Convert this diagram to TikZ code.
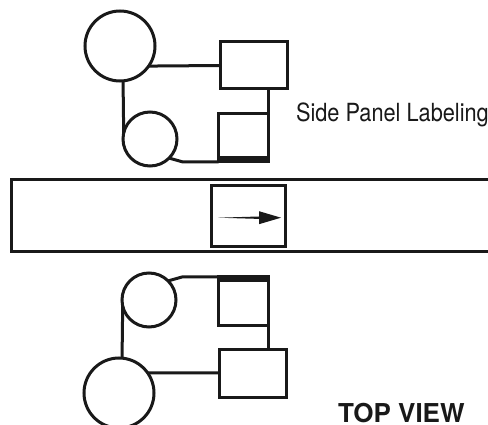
\documentclass[tikz,border=0pt]{standalone}
\usepackage{fontspec}
\setmainfont{TeX Gyre Heros}
\begin{document}
\begin{tikzpicture}[x=1pt,y=-1pt,
  ln/.style={line width=3pt,draw=black!90,line join=miter},
  circ/.style={ln,circle,inner sep=0pt,outer sep=0pt,minimum size=#1},
  boxn/.style 2 args={ln,rectangle,inner sep=0pt,outer sep=0pt,minimum width=#1,minimum height=#2},
  conn/.style={ln},
  bar/.style={fill=black!90,draw=none},
  lbl/.style={inner sep=0pt,outer sep=0pt,anchor=base west,text=black!90}]
\useasboundingbox (0,0) rectangle (488,425);
\fill[white] (0,0) rectangle (488,425);
% top group
\node[circ=70pt] (bigT) at (120,46) {};
\node[circ=54pt] (smallT) at (150,139) {};
\node[boxn={67pt}{47pt}] (wideT) at (253.5,65.5) {};
\node[boxn={50pt}{48pt}] (squareT) at (243.5,138) {};
\fill[bar] (squareT.south west) rectangle ([yshift=5.5pt]squareT.south east);
\coordinate (bendT) at (183,162);
\draw[conn] (bigT.-35) -- (wideT.west);
\draw[conn] (bigT.-85) -- (smallT.167);
\draw[conn] (wideT.south -| squareT.east) -- (squareT.north east);
\draw[conn] (smallT.-45) -- (bendT) -- (squareT.south west);
% band
\node[boxn={480pt}{72pt}] (band) at (251,216) {};
\node[boxn={74pt}{61pt}] (panel) at (248,216.5) {};
\coordinate (arrowtail) at (218,217.7);
\coordinate (arrowtip) at (281,217.7);
\fill[black!90] (arrowtail) -- ([shift={(41,-1.2)}]arrowtail) -- ([shift={(41,-6.5)}]arrowtail)
  -- (arrowtip) -- ([shift={(41,6.5)}]arrowtail) -- ([shift={(41,1.2)}]arrowtail) -- cycle;
% bottom group
\node[circ=54pt] (smallB) at (149,300) {};
\node[circ=70pt] (bigB) at (119,393) {};
\node[boxn={50pt}{48pt}] (squareB) at (243,301) {};
\node[boxn={67pt}{48pt}] (wideB) at (252.5,373) {};
\fill[bar] (squareB.north west) rectangle ([yshift=-5.5pt]squareB.north east);
\coordinate (bendB) at (182,277);
\draw[conn] (bigB.35) -- (wideB.west);
\draw[conn] (bigB.85) -- (smallB.-167);
\draw[conn] (squareB.south east) -- (squareB.south east |- wideB.north);
\draw[conn] (smallB.45) -- (bendB) -- (squareB.north west);
% labels
\node[lbl,font=\fontsize{25}{25}\selectfont] (side) at (296,122) {\addfontfeature{FakeStretch=0.87}Side Panel Labeling};
\node[lbl,font=\fontsize{26}{26}\selectfont\bfseries] (top) at (338,422) {TOP VIEW};
\end{tikzpicture}
\end{document}
